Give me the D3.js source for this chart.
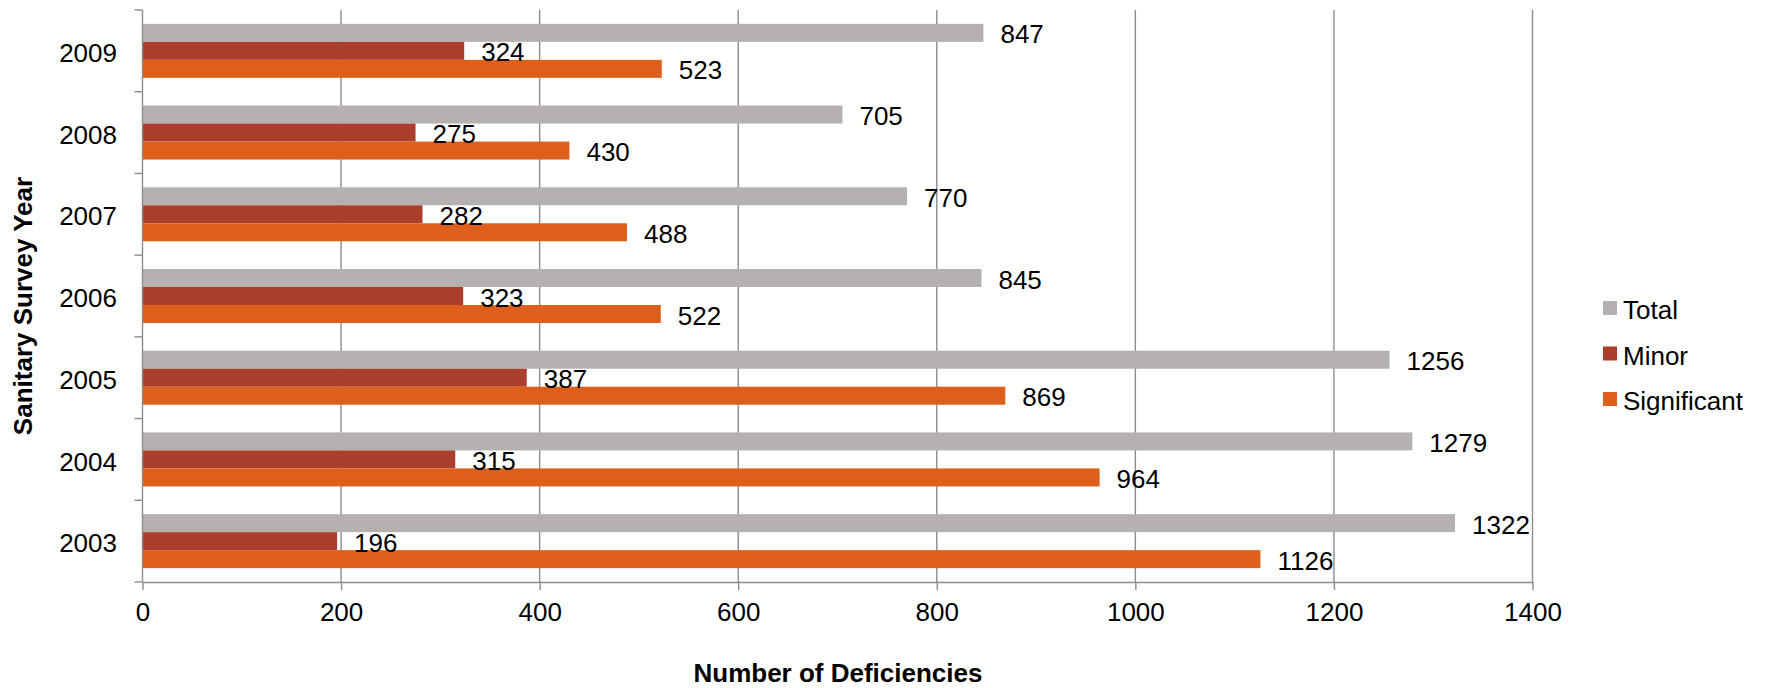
<!DOCTYPE html>
<html>
<head>
<meta charset="utf-8">
<script src="https://cdn.jsdelivr.net/npm/d3@7"></script>
<style>
  html, body { margin: 0; padding: 0; background: #fff; }
  svg { display: block; font-family: "Liberation Sans", Arial, sans-serif; }
</style>
</head>
<body>
<svg id="chart" width="1767" height="688"></svg>
<script>
// Sanitary survey deficiencies by year
const years = ["2009", "2008", "2007", "2006", "2005", "2004", "2003"];
const seriesNames = ["Total", "Minor", "Significant"];
const totalValues = [847, 705, 770, 845, 1256, 1279, 1322];
const minorValues = [324, 275, 282, 323, 387, 315, 196];
const significantValues = [523, 430, 488, 522, 869, 964, 1126];
const xTicks = [0, 200, 400, 600, 800, 1000, 1200, 1400];
const seriesColors = ["#b5b1b0", "#ab3e2c", "#de5f1c"];

const seriesValues = [totalValues, minorValues, significantValues];
const rows = years.map((yr, i) => ({
  year: yr,
  values: seriesNames.map((s, k) => ({ series: s, value: seriesValues[k][i], color: seriesColors[k] }))
}));

const svg = d3.select("#chart");
const plotLeft = 142.5, plotRight = 1532.5, plotTop = 10, plotBottom = 582;
const gridColor = "#8c8c8c";
const fontSize = 26;

const x = d3.scaleLinear().domain([0, 1400]).range([plotLeft, plotRight]);
const y = d3.scaleBand().domain(years).range([plotTop, plotBottom])
  .paddingInner(0.339).paddingOuter(0.1695);
const ySub = d3.scaleBand().domain(seriesNames).range([0, y.bandwidth()]);

// vertical gridlines
svg.append("g")
  .selectAll("line")
  .data(xTicks.filter(d => d > 0))
  .join("line")
  .attr("x1", d => x(d)).attr("x2", d => x(d))
  .attr("y1", plotTop).attr("y2", plotBottom)
  .attr("stroke", gridColor).attr("stroke-width", 1.4);

// bars
const groups = svg.append("g")
  .selectAll("g")
  .data(rows)
  .join("g")
  .attr("transform", d => `translate(0,${y(d.year)})`);

groups.selectAll("rect")
  .data(d => d.values)
  .join("rect")
  .attr("x", x(0))
  .attr("y", d => ySub(d.series))
  .attr("width", d => x(d.value) - x(0))
  .attr("height", ySub.bandwidth())
  .attr("fill", d => d.color);

// value labels
groups.selectAll("text")
  .data(d => d.values)
  .join("text")
  .attr("x", d => x(d.value) + 17)
  .attr("y", d => ySub(d.series) + ySub.bandwidth() / 2 + 1.5)
  .attr("dy", "0.35em")
  .attr("font-size", fontSize)
  .attr("fill", "#000")
  .text(d => d.value);

// x axis
const xAxis = svg.append("g")
  .attr("transform", `translate(0,${plotBottom})`)
  .call(d3.axisBottom(x).tickValues(xTicks).tickFormat(d3.format("d"))
    .tickSize(8).tickPadding(13).tickSizeOuter(0));
xAxis.select(".domain").attr("stroke", gridColor).attr("stroke-width", 1.4);
xAxis.selectAll(".tick line").attr("stroke", gridColor).attr("stroke-width", 1.4);
xAxis.selectAll(".tick text")
  .attr("font-size", fontSize).attr("font-family", "Liberation Sans, Arial, sans-serif")
  .attr("fill", "#000");

// y axis: line with ticks at category boundaries
svg.append("line")
  .attr("x1", plotLeft).attr("x2", plotLeft).attr("y1", plotTop).attr("y2", plotBottom)
  .attr("stroke", gridColor).attr("stroke-width", 1.4);
const step = y.step();
const boundaries = years.map(yr => y(yr) - y.paddingOuter() * step).concat([plotBottom]);
svg.append("g")
  .selectAll("line")
  .data(boundaries)
  .join("line")
  .attr("x1", plotLeft - 8).attr("x2", plotLeft)
  .attr("y1", d => d).attr("y2", d => d)
  .attr("stroke", gridColor).attr("stroke-width", 1.4);

svg.append("g")
  .selectAll("text")
  .data(years)
  .join("text")
  .attr("x", 117)
  .attr("y", d => y(d) + y.bandwidth() / 2 + 2)
  .attr("dy", "0.35em")
  .attr("text-anchor", "end")
  .attr("font-size", fontSize)
  .text(d => d);

// axis titles
svg.append("text")
  .attr("x", 838).attr("y", 682)
  .attr("text-anchor", "middle")
  .attr("font-size", fontSize).attr("font-weight", "bold")
  .text("Number of Deficiencies");

svg.append("text")
  .attr("transform", "translate(31.5,306) rotate(-90)")
  .attr("text-anchor", "middle")
  .attr("font-size", fontSize).attr("font-weight", "bold")
  .text("Sanitary Survey Year");

// legend
const legend = svg.append("g")
  .selectAll("g")
  .data(seriesNames)
  .join("g")
  .attr("transform", (d, i) => `translate(1603,${301 + i * 45.5})`);
legend.append("rect")
  .attr("width", 14).attr("height", 14)
  .attr("fill", (d, i) => seriesColors[i]);
legend.append("text")
  .attr("x", 20).attr("y", 18)
  .attr("font-size", fontSize)
  .text(d => d);
</script>
</body>
</html>
